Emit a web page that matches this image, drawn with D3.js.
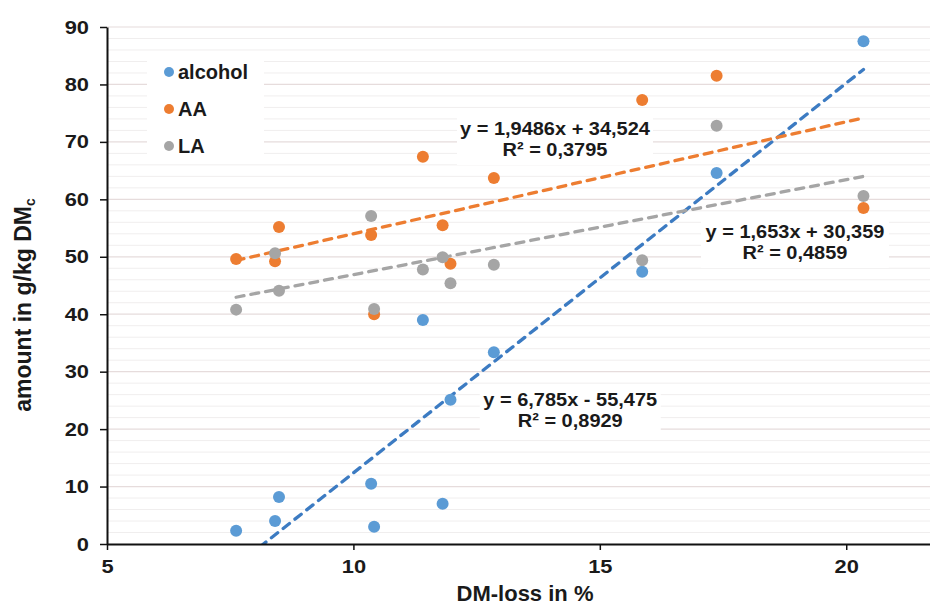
<!DOCTYPE html>
<html>
<head>
<meta charset="utf-8">
<script src="https://cdn.jsdelivr.net/npm/d3@7"></script>
<style>
  body { margin: 0; background: #fff; }
  svg { display: block; font-family: "Liberation Sans", Arial, sans-serif; font-weight: bold; }
</style>
</head>
<body>
<svg width="930" height="608"></svg>
<script>
// DM-loss (%) shared by all three series
const dmLoss = [7.62, 8.41, 8.49, 10.36, 10.42, 11.41, 11.81, 11.97, 12.85, 15.86, 17.37, 20.35];
const alcohol = [2.3, 4.0, 8.2, 10.5, 3.0, 39.0, 7.0, 25.1, 33.4, 47.4, 64.6, 87.5];
const aa = [49.6, 49.2, 55.2, 53.8, 40.0, 67.4, 55.5, 48.8, 63.7, 77.3, 81.5, 58.5];
const la = [40.8, 50.6, 44.1, 57.1, 40.9, 47.8, 49.9, 45.4, 48.6, 49.4, 72.8, 60.6];

const seriesNames = ["alcohol", "AA", "LA"];
const slopes = [6.785, 1.9486, 1.653];
const intercepts = [-55.475, 34.524, 30.359];
const eqLines = [
  ["y = 6,785x - 55,475", "R² = 0,8929"],
  ["y = 1,9486x + 34,524", "R² = 0,3795"],
  ["y = 1,653x + 30,359", "R² = 0,4859"]
];
// label anchors in data units (x, y of first line baseline)
const eqAnchors = [[14.4, 24.0], [14.09, 71.2], [18.96, 53.3]];

const xTicks = [5, 10, 15, 20];
const yTicks = [0, 10, 20, 30, 40, 50, 60, 70, 80, 90];

const colors = ["#5b9bd5", "#ed7d31", "#a5a5a5"];
const lineColors = ["#3c7bc2", "#ed7d31", "#a5a5a5"];
const SX = 1.15; // horizontal stretch of tick text

const svg = d3.select("svg");
const x = d3.scaleLinear().domain([5, 21.7]).range([107, 930]);
const y = d3.scaleLinear().domain([0, 90]).range([544, 27]);

// gridlines
svg.append("g")
  .selectAll("line")
  .data(d3.range(2, 90, 2).filter(v => v % 10 !== 0))
  .join("line")
  .attr("x1", x(5)).attr("x2", 930)
  .attr("y1", d => y(d)).attr("y2", d => y(d))
  .attr("stroke", "#f0eeee").attr("stroke-width", 1);

svg.append("g")
  .selectAll("line")
  .data(yTicks.slice(1))
  .join("line")
  .attr("x1", x(5)).attr("x2", 930)
  .attr("y1", d => y(d)).attr("y2", d => y(d))
  .attr("stroke", "#e6dcdc").attr("stroke-width", 1.2);

// label backgrounds
const eqBoxW = [181, 196, 188];
eqAnchors.forEach((a, i) => {
  svg.append("rect")
    .attr("x", x(a[0]) - eqBoxW[i] / 2)
    .attr("y", y(a[1]) - 20)
    .attr("width", eqBoxW[i])
    .attr("height", 50)
    .attr("fill", "#fff");
});

// legend background
svg.append("rect")
  .attr("x", 147).attr("y", 53).attr("width", 117).attr("height", 110)
  .attr("fill", "#fff");

// trendlines
svg.append("clipPath").attr("id", "plot")
  .append("rect").attr("x", x(5)).attr("y", y(90)).attr("width", 930 - x(5)).attr("height", y(0) - y(90));

const xMin = d3.min(dmLoss), xMax = d3.max(dmLoss);
const trend = svg.append("g").attr("clip-path", "url(#plot)");
slopes.forEach((m, i) => {
  trend.append("line")
    .attr("x1", x(xMin)).attr("y1", y(m * xMin + intercepts[i]))
    .attr("x2", x(xMax)).attr("y2", y(m * xMax + intercepts[i]))
    .attr("stroke", lineColors[i])
    .attr("stroke-width", 3.3)
    .attr("stroke-dasharray", "8,7")
    .attr("stroke-linecap", "round");
});

// points
[alcohol, aa, la].forEach((vals, i) => {
  svg.append("g")
    .selectAll("circle")
    .data(vals)
    .join("circle")
    .attr("cx", (d, j) => x(dmLoss[j]))
    .attr("cy", d => y(d))
    .attr("r", 6)
    .attr("fill", colors[i]);
});

// equations
eqLines.forEach((lines, i) => {
  lines.forEach((s, k) => {
    svg.append("text")
      .attr("transform", `translate(${x(eqAnchors[i][0])},${y(eqAnchors[i][1]) + k * 21}) scale(1.08,1)`)
      .attr("text-anchor", "middle")
      .attr("font-size", 18.5)
      .attr("fill", "#1a1a1a")
      .text(s);
  });
});

// axes
const xAxis = svg.append("g")
  .attr("transform", `translate(0,${y(0)})`)
  .call(d3.axisBottom(x).tickValues(xTicks).tickSize(6).tickSizeOuter(0).tickPadding(10));
xAxis.select(".domain").attr("stroke", "#111").attr("stroke-width", 2);
xAxis.selectAll(".tick line").attr("stroke", "#111").attr("stroke-width", 1.5);
xAxis.selectAll(".tick text")
  .attr("font-size", 19).attr("font-family", null).attr("fill", "#1a1a1a")
  .attr("transform", `scale(${SX},1)`);

const yAxis = svg.append("g")
  .attr("transform", `translate(${x(5)},0)`)
  .call(d3.axisLeft(y).tickValues(yTicks).tickSize(7).tickSizeOuter(0).tickPadding(11));
yAxis.select(".domain").attr("stroke", "#111").attr("stroke-width", 2);
yAxis.selectAll(".tick line").attr("stroke", "#111").attr("stroke-width", 1.5);
yAxis.selectAll(".tick text")
  .attr("font-size", 19).attr("font-family", null).attr("fill", "#1a1a1a")
  .attr("x", -18 / SX)
  .attr("transform", `scale(${SX},1)`);

// axis titles
svg.append("text")
  .attr("x", 525).attr("y", 601)
  .attr("text-anchor", "middle")
  .attr("font-size", 22)
  .attr("fill", "#1a1a1a")
  .text("DM-loss in %");

const yt = svg.append("text")
  .attr("transform", "translate(31,305) rotate(-90)")
  .attr("text-anchor", "middle")
  .attr("font-size", 23)
  .attr("fill", "#1a1a1a");
yt.append("tspan").text("amount in g/kg DM");
yt.append("tspan").attr("font-size", 14).attr("dy", 4).text("c");

// legend
const legend = svg.append("g");
seriesNames.forEach((n, i) => {
  const ly = 72 + i * 37;
  legend.append("circle").attr("cx", 169).attr("cy", ly).attr("r", 5).attr("fill", colors[i]);
  legend.append("text")
    .attr("x", 178).attr("y", ly + 7)
    .attr("font-size", 20)
    .attr("fill", "#1a1a1a")
    .text(n);
});
</script>
</body>
</html>
